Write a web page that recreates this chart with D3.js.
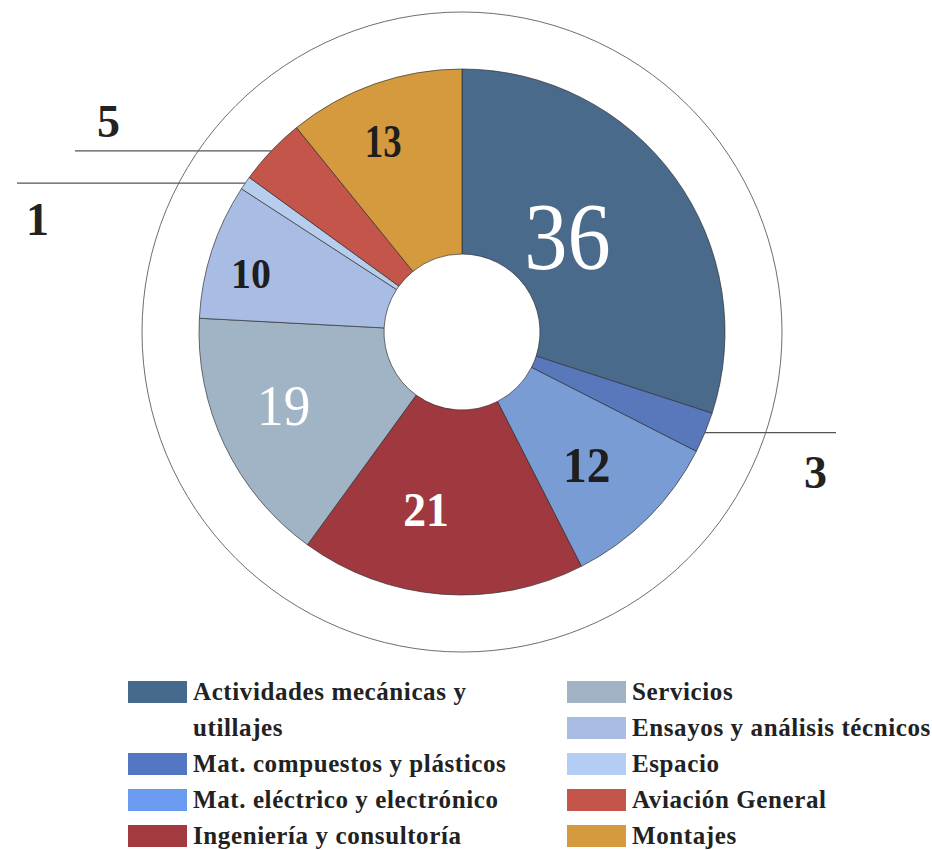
<!DOCTYPE html>
<html><head><meta charset="utf-8">
<script src="https://cdn.jsdelivr.net/npm/d3@7"></script>
<style>body{margin:0;background:#fff}svg{display:block}</style>
</head><body>
<svg id="c" width="932" height="850"></svg>
<script>
// ---- data ----
const categories = ["Actividades mecánicas y utillajes","Mat. compuestos y plásticos","Mat. eléctrico y electrónico","Ingeniería y consultoría","Servicios","Ensayos y análisis técnicos","Espacio","Aviación General","Montajes"];
const values = [36,3,12,21,19,10,1,5,13];
const sliceColors = ["#4a6a8c","#5878bb","#789cd3","#a0393f","#a1b4c6","#a9bde4","#b6cdee","#c3554b","#d59a3e"];
const legendColors = ["#456a8e","#5477c4","#6a9bf0","#a23a40","#a0b2c4","#a8bce4","#b3cdf5","#c3554b","#d69a3e"];
const legendColumn = [0,0,0,0,1,1,1,1,1];

// ---- style / layout ----
const FONT = '"Liberation Serif", "Tinos", "Times New Roman", serif';
const cx = 462, cy = 332, rOuter = 263, rInner = 78, rRing = 320;
const inLabel = {
  0:{r:142,da:-6,size:96,color:"#fff",weight:"normal",sx:0.9},
  2:{r:183,da:2,size:50,color:"#1e1e1e",weight:"bold",sx:0.95},
  3:{r:181,da:7,size:48,color:"#fff",weight:"bold",sx:0.95},
  4:{r:193,da:3,size:56,color:"#fff",weight:"normal",sx:0.95},
  5:{r:219,da:-2.5,size:42,color:"#1e1e1e",weight:"bold",sx:0.95},
  8:{r:206,da:-3,size:46,color:"#1e1e1e",weight:"bold",sx:0.8}
};
const outLabel = {
  1:{endX:836,dx:-9,dy:55,anchor:"end"},
  6:{endX:17,dx:9,dy:52,anchor:"start"},
  7:{endX:75,dx:22,dy:-14,anchor:"start"}
};

const svg = d3.select("#c");
const g = svg.append("g").attr("transform",`translate(${cx},${cy})`);

g.append("circle").attr("r",rRing).attr("fill","none").attr("stroke","#6e6e6e").attr("stroke-width",1);

const pie = d3.pie().sort(null).value(d=>d)(values);
const arc = d3.arc().innerRadius(rInner).outerRadius(rOuter);

g.selectAll("path.slice").data(pie).join("path").attr("class","slice")
  .attr("d",arc).attr("fill",(d,i)=>sliceColors[i])
  .attr("stroke","#2e2e2e").attr("stroke-width",0.8).attr("stroke-opacity",0.85);

pie.forEach((d,i)=>{
  const L = inLabel[i]; if(!L) return;
  const a = (d.startAngle+d.endAngle)/2 + L.da*Math.PI/180;
  const x = L.r*Math.sin(a), y = -L.r*Math.cos(a);
  g.append("text").attr("transform",`translate(${x},${y}) scale(${L.sx},1)`)
    .attr("text-anchor","middle").attr("dominant-baseline","central")
    .style("font-family",FONT).attr("font-size",L.size).attr("font-weight",L.weight)
    .attr("fill",L.color).text(values[i]);
});

pie.forEach((d,i)=>{
  const L = outLabel[i]; if(!L) return;
  const a = (d.startAngle+d.endAngle)/2;
  const x = rOuter*Math.sin(a), y = -rOuter*Math.cos(a);
  const ex = L.endX - cx;
  g.append("line").attr("x1",x).attr("y1",y).attr("x2",ex).attr("y2",y)
    .attr("stroke","#555").attr("stroke-width",1.3);
  g.append("text").attr("x",ex+L.dx).attr("y",y+L.dy).attr("text-anchor",L.anchor)
    .style("font-family",FONT).attr("font-size",46).attr("font-weight","bold")
    .attr("fill","#222").text(values[i]);
});

const colX = [128,567], rowTop = 681, rowH = 36, swW = 59, swH = 22, maxTextW = 330;
const leg = svg.append("g");
[0,1].forEach(col=>{
  let row = 0;
  categories.forEach((name,i)=>{
    if(legendColumn[i]!==col) return;
    const top = rowTop + row*rowH;
    leg.append("rect").attr("x",colX[col]).attr("y",top).attr("width",swW).attr("height",swH)
      .attr("fill",legendColors[i]);
    const t = leg.append("text").attr("x",colX[col]+swW+6).attr("y",top+swH/2+8)
      .style("font-family",FONT).attr("font-size",25).attr("font-weight","bold")
      .attr("fill","#222").attr("letter-spacing",0.6);
    const words = name.split(" ");
    let line = [], lines = 0;
    let ts = t.append("tspan").attr("x",colX[col]+swW+6).attr("dy",0);
    words.forEach(w=>{
      line.push(w); ts.text(line.join(" "));
      if(ts.node().getComputedTextLength()>maxTextW && line.length>1){
        line.pop(); ts.text(line.join(" "));
        line=[w]; lines++;
        ts = t.append("tspan").attr("x",colX[col]+swW+6).attr("dy",rowH).text(w);
      }
    });
    row += lines+1;
  });
});
</script>
</body></html>
